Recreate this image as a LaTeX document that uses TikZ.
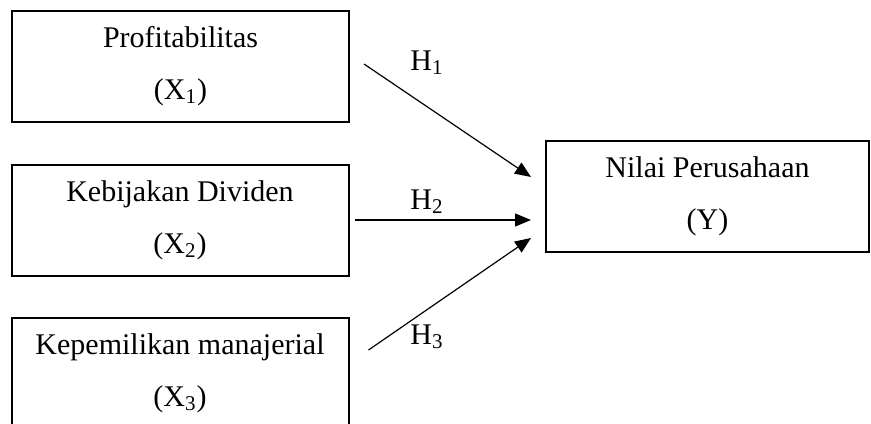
\documentclass[tikz,border=0pt]{standalone}
\usepackage{fontspec}
\setmainfont{Liberation Serif}
\usetikzlibrary{arrows.meta, positioning}

\begin{document}
\begin{tikzpicture}[
    x=0.5pt, y=-0.5pt,
    every node/.style={font=\fontsize{15}{26}\selectfont},
    var/.style={rectangle, draw, line width=1pt, minimum width=168.5pt, minimum height=55.5pt, align=center, inner sep=0pt},
    hyp/.style={inner sep=0pt},
    arrow/.style={-{Triangle[length=8pt, width=6.5pt]}, line width=0.6pt}
]
    \useasboundingbox (0,0) rectangle (871,423);

    % Independent variables (X1 to X3)
    \node[var] (x1) at (180.5,66) {Profitabilitas\\(X\textsubscript{1})};
    \node[var] (x2) at (180,220) {Kebijakan Dividen\\(X\textsubscript{2})};
    \node[var] (x3) at (180,373) {Kepemilikan manajerial\\(X\textsubscript{3})};

    % Dependent variable
    \node[var, minimum width=161.5pt] (y) at (707.5,196) {Nilai Perusahaan\\(Y)};

    % Hypothesis labels
    \node[hyp] (h1) at (427,63) {H\textsubscript{1}};
    \node[hyp] (h2) at (427,202) {H\textsubscript{2}};
    \node[hyp] (h3) at (427,337) {H\textsubscript{3}};

    % Hypothesis arrows (from X to Y)
    \draw[arrow] ([xshift=7pt, yshift=1pt]x1.east) -- ([xshift=-7pt, yshift=9.5pt]y.west);
    \draw[arrow] ([xshift=2.5pt]x2.east) -- ([xshift=-7pt, yshift=-12pt]y.west);
    \draw[arrow] ([xshift=9.5pt, yshift=11.5pt]x3.east) -- ([xshift=-7pt, yshift=-21pt]y.west);

\end{tikzpicture}
\end{document}
